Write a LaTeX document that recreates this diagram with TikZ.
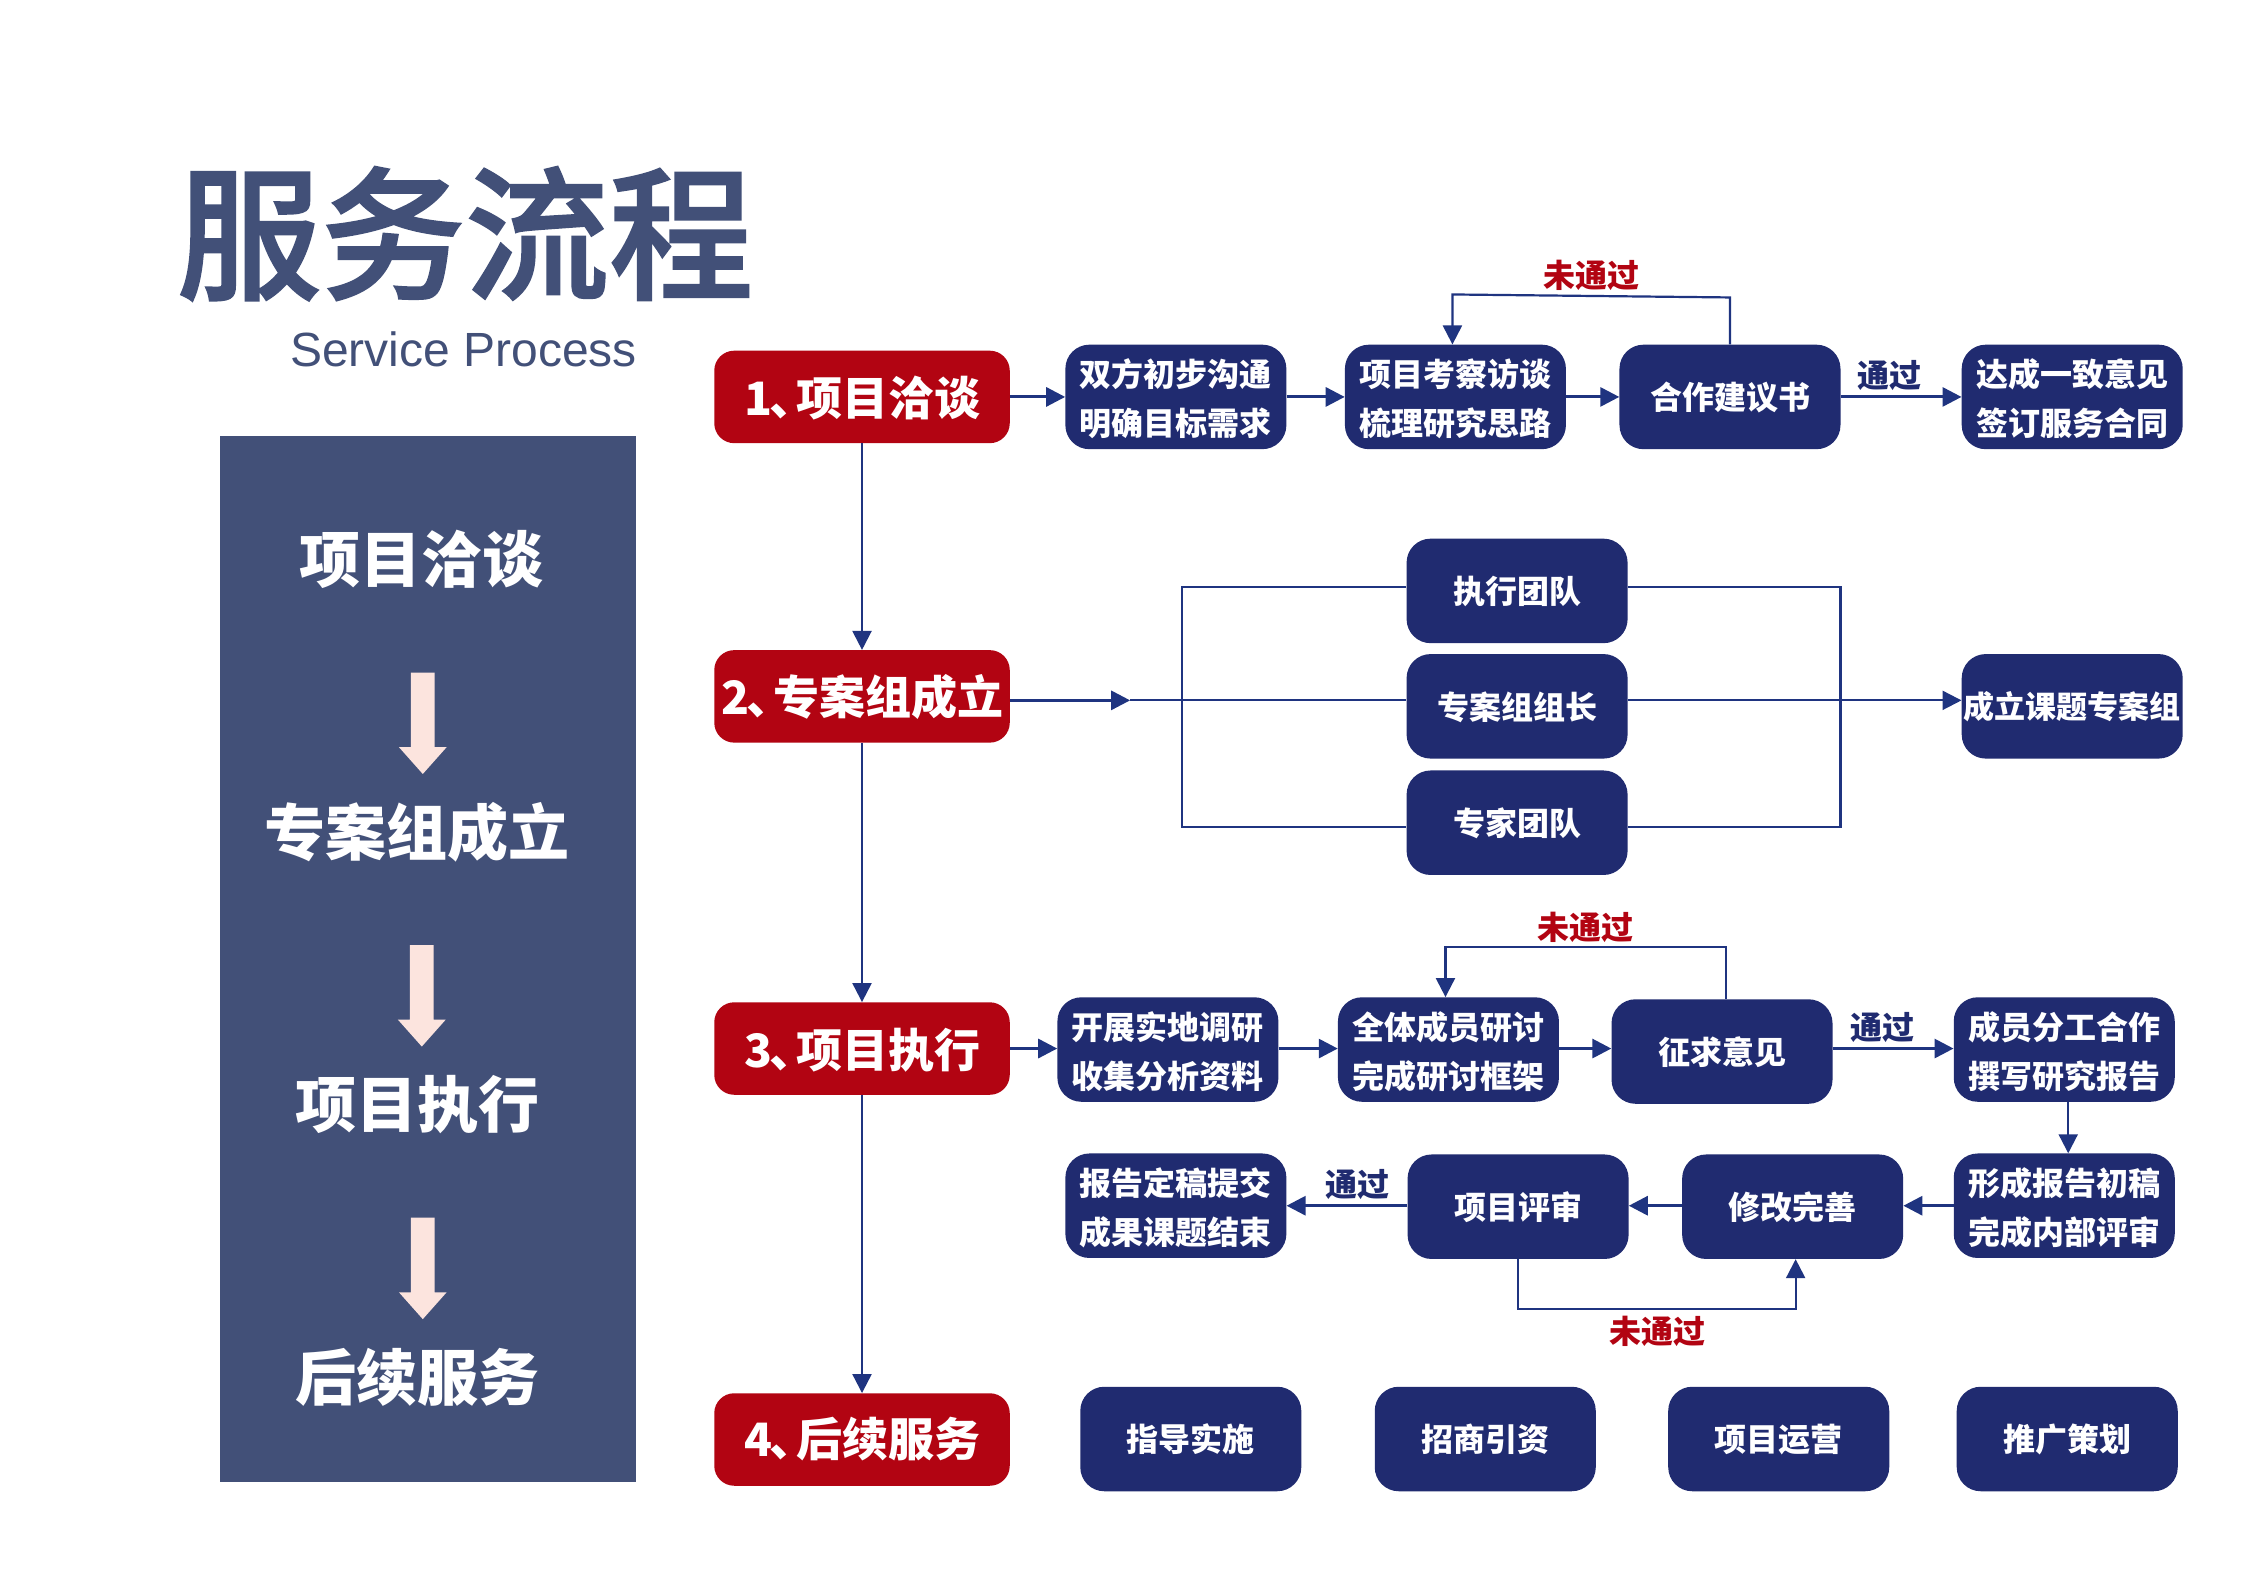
\documentclass[tikz,border=0pt]{standalone}
\usepackage{fontspec}
\usetikzlibrary{arrows.meta}
\setmainfont{Noto Sans CJK SC}
\newfontfamily\cjkmedium[FakeBold=1.5]{Noto Sans CJK SC Medium}
\newfontfamily\cjkblack{Noto Sans CJK SC Black}
\newfontfamily\latinsans{Liberation Sans}
\definecolor{panelblue}{HTML}{425078}
\definecolor{navy}{HTML}{202B70}
\definecolor{brickred}{HTML}{B20412}
\definecolor{linkblue}{HTML}{1F3480}
\definecolor{paleshaft}{HTML}{FCE4DE}
\tikzset{
  x=.9948pt,y=-.9948pt,
  navbox/.style={draw=none,fill=navy,rounded corners=24pt,minimum width=221pt,minimum height=104.5pt,inner sep=0pt,
    text=white,align=center,font=\fontsize{32}{49}\selectfont\cjkblack},
  redbox/.style={draw=none,fill=brickred,rounded corners=20pt,minimum width=295.5pt,minimum height=92.5pt,inner sep=0pt,
    text=white,align=center,font=\fontsize{46}{56}\selectfont\cjkblack},
  sidelabel/.style={text=white,inner sep=0pt,font=\fontsize{61}{70}\selectfont\cjkblack},
  passlabel/.style={text=navy,inner sep=0pt,font=\fontsize{32}{38}\selectfont\cjkblack},
  faillabel/.style={text=brickred,inner sep=0pt,font=\fontsize{32}{38}\selectfont\cjkblack},
  thinlink/.style={draw=linkblue,line width=2.2pt},
  thicklink/.style={draw=linkblue,line width=3pt},
  endtip/.style={-{Triangle[length=19pt,width=19pt]}},
  pale/.style={fill=paleshaft,draw=none},
}
\newcommand{\downshape}[2]{\fill[pale] (#1-12,#2) -- (#1+12,#2) -- (#1+12,#2+75) -- (#1+24,#2+75) -- (#1,#2+102) -- (#1-24,#2+75) -- (#1-12,#2+75) -- cycle;}
\newcommand{\lowered}[2]{\raisebox{-#1}[\height][\depth]{\begin{tabular}{@{}c@{}}#2\end{tabular}}}
\newcommand{\twolines}[2]{\lowered{4.5pt}{#1\\#2}}
\newcommand{\oneline}[1]{\lowered{3pt}{#1}}
\begin{document}
\begin{tikzpicture}
\useasboundingbox (0,0) rectangle (2255.7,1595.3);
\fill[white] (0,0) rectangle (2255.7,1595.3);

% title
\node[text=panelblue,inner sep=0pt,font=\fontsize{144}{150}\cjkmedium] (title) at (467.5,235) {服务流程};
\node[text=panelblue,inner sep=0pt,font=\fontsize{48}{56}\latinsans] (subtitle) at (466,351) {Service Process};

% left panel
\fill[panelblue] (221,438) rectangle (639,1490);
\node[sidelabel] (s1) at (424,562) {项目洽谈};
\node[sidelabel] (s2) at (419,837) {专案组成立};
\node[sidelabel] (s3) at (420,1110) {项目执行};
\node[sidelabel] (s4) at (420,1384) {后续服务};
\downshape{425}{676}
\downshape{424}{950}
\downshape{425}{1224}

% red stages
\node[redbox] (r1) at (866.5,399) {\lowered{7pt}{1\kern-3pt、\kern-19pt项目洽谈}};
\node[redbox] (r2) at (866.5,700) {\lowered{6pt}{2\kern-3pt、\kern-19pt专案组成立}};
\node[redbox] (r3) at (866.5,1054) {\lowered{7.5pt}{3\kern-3pt、\kern-19pt项目执行}};
\node[redbox] (r4) at (866.5,1447) {\lowered{6pt}{4\kern-3pt、\kern-19pt后续服务}};

% row 1
\node[navbox] (a1) at (1182,399) {\twolines{双方初步沟通}{明确目标需求}};
\node[navbox] (a2) at (1463,399) {\twolines{项目考察访谈}{梳理研究思路}};
\node[navbox] (a3) at (1739,399) {\oneline{合作建议书}};
\node[navbox] (a4) at (2083,399) {\twolines{达成一致意见}{签订服务合同}};
\node[faillabel] (f1) at (1600,277) {未通过};
\node[passlabel] (p1) at (1899,377) {通过};

% row 2
\node[navbox] (t1) at (1525,594) {\oneline{执行团队}};
\node[navbox] (t2) at (1525,710) {\oneline{专案组组长}};
\node[navbox] (t3) at (1525,827) {\oneline{专家团队}};
\node[navbox,font=\fontsize{31}{38}\selectfont\cjkblack] (t4) at (2083,710) {\lowered{4.5pt}{成立课题专案组}};

% row 3
\node[navbox] (b1) at (1174,1055) {\twolines{开展实地调研}{收集分析资料}};
\node[navbox] (b2) at (1456,1055) {\twolines{全体成员研讨}{完成研讨框架}};
\node[navbox] (b3) at (1731,1057) {\oneline{征求意见}};
\node[navbox] (b4) at (2075,1055) {\twolines{成员分工合作}{撰写研究报告}};
\node[faillabel] (f2) at (1594,932) {未通过};
\node[passlabel] (p2) at (1892,1033) {通过};

% row 3b
\node[navbox] (c1) at (1182,1212) {\twolines{报告定稿提交}{成果课题结束}};
\node[navbox] (c2) at (1526,1213) {\oneline{项目评审}};
\node[navbox] (c3) at (1802,1213) {\oneline{修改完善}};
\node[navbox] (c4) at (2075,1212) {\twolines{形成报告初稿}{完成内部评审}};
\node[passlabel] (p3) at (1365,1191) {通过};
\node[faillabel] (f3) at (1666,1338) {未通过};

% row 4
\node[navbox] (d1) at (1197,1446.5) {\oneline{指导实施}};
\node[navbox] (d2) at (1493,1446.5) {\oneline{招商引资}};
\node[navbox] (d3) at (1788,1446.5) {\oneline{项目运营}};
\node[navbox] (d4) at (2078,1446.5) {\oneline{推广策划}};

% main vertical
\draw[thinlink,endtip] (r1.south) -- (r2.north);
\draw[thinlink,endtip] (r2.south) -- (r3.north);
\draw[thinlink,endtip] (r3.south) -- (r4.north);

% row 1 links
\draw[thicklink,endtip] (r1.east) -- (a1.west);
\draw[thicklink,endtip] (a1.east) -- (a2.west);
\draw[thicklink,endtip] (a2.east) -- (a3.west);
\draw[thicklink,endtip] (a3.east) -- (a4.west);
\coordinate (k1) at (1739,299);
\coordinate (k2) at (1460,296);
\draw[thinlink,endtip] (a3.north) -- (k1) -- (k2) -- (k2 |- a2.north);

% row 2 links
\coordinate (midtip) at (1136,704);
\coordinate (blx) at (1188,590);
\coordinate (brx) at (1850,590);
\coordinate (bly) at (1188,831);
\coordinate (bry) at (1850,831);
\draw[thicklink,endtip] (r2.east |- midtip) -- (midtip);
\draw[thinlink] (midtip) -- (t2.west |- midtip);
\draw[thinlink,endtip] (t2.east |- midtip) -- (t4.west |- midtip);
\draw[thinlink] (t1.west |- blx) -- (blx) -- (bly) -- (t3.west |- bly);
\draw[thinlink] (t1.east |- brx) -- (brx) -- (bry) -- (t3.east |- bry);

% row 3 links
\draw[thicklink,endtip] (r3.east) -- (b1.west |- r3.east);
\draw[thicklink,endtip] (b1.east |- r3.east) -- (b2.west |- r3.east);
\draw[thicklink,endtip] (b2.east |- r3.east) -- (b3.west |- r3.east);
\draw[thicklink,endtip] (b3.east |- r3.east) -- (b4.west |- r3.east);
\coordinate (k3) at (1735,952);
\coordinate (k4) at (1453,952);
\draw[thinlink,endtip] (k3 |- b3.north) -- (k3) -- (k4) -- (k4 |- b2.north);
\coordinate (k7) at (2079,1130);
\draw[thinlink,endtip] (k7 |- b4.south) -- (k7 |- c4.north);

% row 3b links
\draw[thicklink,endtip] (c4.west) -- (c3.east |- c4.west);
\draw[thicklink,endtip] (c3.west |- c4.west) -- (c2.east |- c4.west);
\draw[thicklink,endtip] (c2.west |- c4.west) -- (c1.east);
\coordinate (k5) at (1526,1316);
\coordinate (k6) at (1805,1316);
\draw[thinlink,endtip] (c2.south) -- (k5) -- (k6) -- (k6 |- c3.south);
\end{tikzpicture}
\end{document}
